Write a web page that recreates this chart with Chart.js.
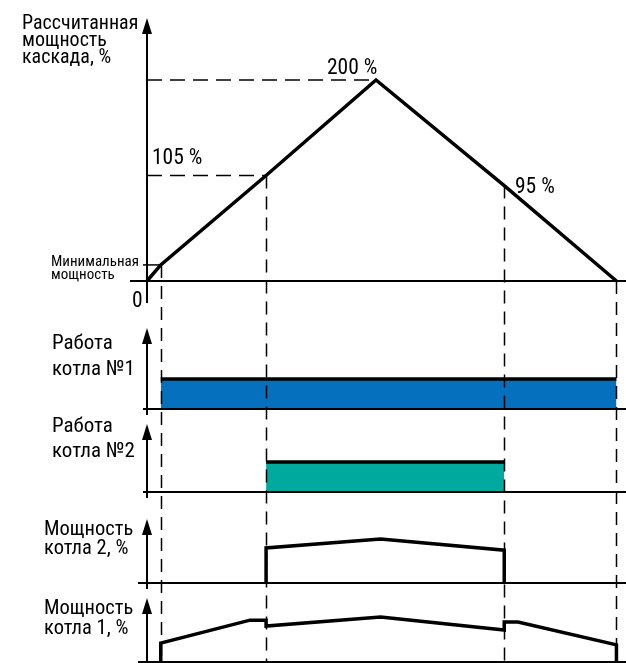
<!DOCTYPE html>
<html><head><meta charset="utf-8">
<script src="https://cdn.jsdelivr.net/npm/chart.js@4/dist/chart.umd.min.js"></script>
<style>html,body{margin:0;padding:0;background:#fff}#wrap{position:relative;width:626px;height:663px}</style>
</head><body><div id="wrap"><canvas id="c" width="626" height="663"></canvas></div>
<script>
// ---- data (time in arbitrary units, values in %) ----
const cascadeTime = [0, 6, 52, 100, 156, 205];
const cascadePct = [0, 16, 105, 200, 95, 0];
const boiler1OnTime = [6, 205];
const boiler2OnTime = [52, 156];
const boiler2PowerTime = [52, 52, 102, 156, 156];
const boiler2PowerPct = [0, 78, 98, 73, 0];
const boiler1PowerTime = [6, 6, 45, 52, 52, 102, 156, 156, 162, 205, 205];
const boiler1PowerPct = [0, 42, 93, 93, 80, 100, 71, 89, 89, 38, 0];
const switchTime = [6, 52, 156, 205];
const switchPct = [16, 105, 95, 0];
const markTime = [100, 52, 156];
const markPct = [200, 105, 95];
const markLabels = ['200 %', '105 %', '95 %'];
const minPowerPct = 16;
const panelTitles = [
  ['Рассчитанная', 'мощность', 'каскада, %'],
  ['Работа', 'котла №1'],
  ['Работа', 'котла №2'],
  ['Мощность', 'котла 2, %'],
  ['Мощность', 'котла 1, %']
];
const minPowerLabel = ['Минимальная', 'мощность'];

// ---- layout ----
const W = 626, H = 663;
const X0 = 147, PX_PER_T = 2.29;
function yRange(basePx, pxPerUnit) { return { min: -(H - basePx) / pxPerUnit, max: basePx / pxPerUnit }; }
const FONT = "'Liberation Sans Narrow','Arial Narrow','Roboto Condensed',sans-serif";
const pts = (t, v) => t.map((x, i) => ({ x, y: v[i] }));
const onPts = (t) => [{ x: t[0], y: 0 }, { x: t[0], y: 1 }, { x: t[1], y: 1 }, { x: t[1], y: 0 }];
const topPts = (t) => [{ x: t[0], y: 1 }, { x: t[1], y: 1 }];

const line = (data, axis, extra) => Object.assign({
  data, yAxisID: axis, borderColor: '#000', borderWidth: 3.5, pointRadius: 0,
  tension: 0, fill: false, borderJoinStyle: 'miter', borderCapStyle: 'butt'
}, extra || {});

const panels = [
  { id: 'yC', base: 281, tip: 18, bottom: 303, left: 130, title: { x: 22, y: [29, 46, 63], size: 20 } },
  { id: 'yB1', base: 409, tip: 328, bottom: 415, left: 143, title: { x: 52, y: [349, 375], size: 21 } },
  { id: 'yB2', base: 492, tip: 424, bottom: 498, left: 143, title: { x: 52, y: [432, 457], size: 21 } },
  { id: 'yP2', base: 583, tip: 519, bottom: 589, left: 138, title: { x: 44, y: [535, 554], size: 20.5 } },
  { id: 'yP1', base: 662, tip: 598, bottom: 663, left: 138, title: { x: 44, y: [614, 634], size: 20.5 } }
];

const diagram = {
  id: 'diagram',
  afterDatasetsDraw(chart) {
    const ctx = chart.ctx, xs = chart.scales.x, yC = chart.scales.yC;
    const ax = xs.getPixelForValue(0);
    ctx.save();
    ctx.strokeStyle = '#000'; ctx.fillStyle = '#000';
    // horizontal dashed guides
    ctx.lineWidth = 1.5; ctx.setLineDash([15, 8]);
    [0, 1].forEach(i => {
      const y = yC.getPixelForValue(markPct[i]);
      ctx.beginPath(); ctx.moveTo(ax, y); ctx.lineTo(xs.getPixelForValue(markTime[i]), y); ctx.stroke();
    });
    // vertical dashed switching lines
    ctx.setLineDash([13, 8]);
    switchTime.forEach((t, i) => {
      const x = Math.round(xs.getPixelForValue(t)) + 0.5;
      ctx.beginPath(); ctx.moveTo(x, yC.getPixelForValue(switchPct[i])); ctx.lineTo(x, H); ctx.stroke();
    });
    ctx.setLineDash([]);
    // minimal power marker
    const ym = yC.getPixelForValue(minPowerPct);
    ctx.lineWidth = 1.5;
    ctx.beginPath(); ctx.moveTo(ax - 4, ym); ctx.lineTo(xs.getPixelForValue(switchTime[0]), ym); ctx.stroke();
    // axes with arrows and baselines
    panels.forEach((p, idx) => {
      const y0 = chart.scales[p.id].getPixelForValue(0);
      ctx.lineWidth = 2;
      ctx.beginPath(); ctx.moveTo(p.left, y0); ctx.lineTo(W, y0); ctx.stroke();
      ctx.beginPath(); ctx.moveTo(ax, p.bottom); ctx.lineTo(ax, p.tip + 10); ctx.stroke();
      ctx.beginPath(); ctx.moveTo(ax, p.tip); ctx.lineTo(ax - 5, p.tip + 16); ctx.lineTo(ax + 5, p.tip + 16); ctx.closePath(); ctx.fill();
      ctx.font = p.title.size + 'px ' + FONT; ctx.textBaseline = 'alphabetic'; ctx.textAlign = 'left';
      panelTitles[idx].forEach((s, k) => ctx.fillText(s, p.title.x, p.title.y[k]));
    });
    // value marks
    ctx.font = '21.5px ' + FONT;
    ctx.fillText(markLabels[0], 327, 74);
    ctx.fillText(markLabels[1], 152, 164);
    ctx.fillText(markLabels[2], 515, 193);
    ctx.fillText('0', 132, 307);
    ctx.font = '15px ' + FONT;
    ctx.fillText(minPowerLabel[0], 51, 266);
    ctx.fillText(minPowerLabel[1], 51, 279);
    ctx.restore();
  }
};

const scales = {
  x: { type: 'linear', display: false, min: -X0 / PX_PER_T, max: (W - X0) / PX_PER_T },
  yC: Object.assign({ type: 'linear', display: false }, yRange(281, 1.005)),
  yB1: Object.assign({ type: 'linear', display: false }, yRange(409, 30)),
  yB2: Object.assign({ type: 'linear', display: false }, yRange(492, 30)),
  yP2: Object.assign({ type: 'linear', display: false }, yRange(583, 0.45)),
  yP1: Object.assign({ type: 'linear', display: false }, yRange(662, 0.45))
};

new Chart(document.getElementById('c'), {
  type: 'line',
  data: {
    datasets: [
      line(pts(cascadeTime, cascadePct), 'yC', { label: 'Рассчитанная мощность каскада, %' }),
      line(topPts(boiler1OnTime), 'yB1', { label: 'Работа котла №1' }),
      line(onPts(boiler1OnTime), 'yB1', { label: 'Котёл №1 включён', borderWidth: 0, fill: 'origin', backgroundColor: '#0571BE' }),
      line(topPts(boiler2OnTime), 'yB2', { label: 'Работа котла №2' }),
      line(onPts(boiler2OnTime), 'yB2', { label: 'Котёл №2 включён', borderWidth: 0, fill: 'origin', backgroundColor: '#00A99D' }),
      line(pts(boiler2PowerTime, boiler2PowerPct), 'yP2', { label: 'Мощность котла 2, %' }),
      line(pts(boiler1PowerTime, boiler1PowerPct), 'yP1', { label: 'Мощность котла 1, %' })
    ]
  },
  options: {
    responsive: false, animation: false, devicePixelRatio: 1,
    layout: { padding: 0 },
    plugins: { legend: { display: false }, tooltip: { enabled: false } },
    scales
  },
  plugins: [diagram]
});
</script>
</body></html>
